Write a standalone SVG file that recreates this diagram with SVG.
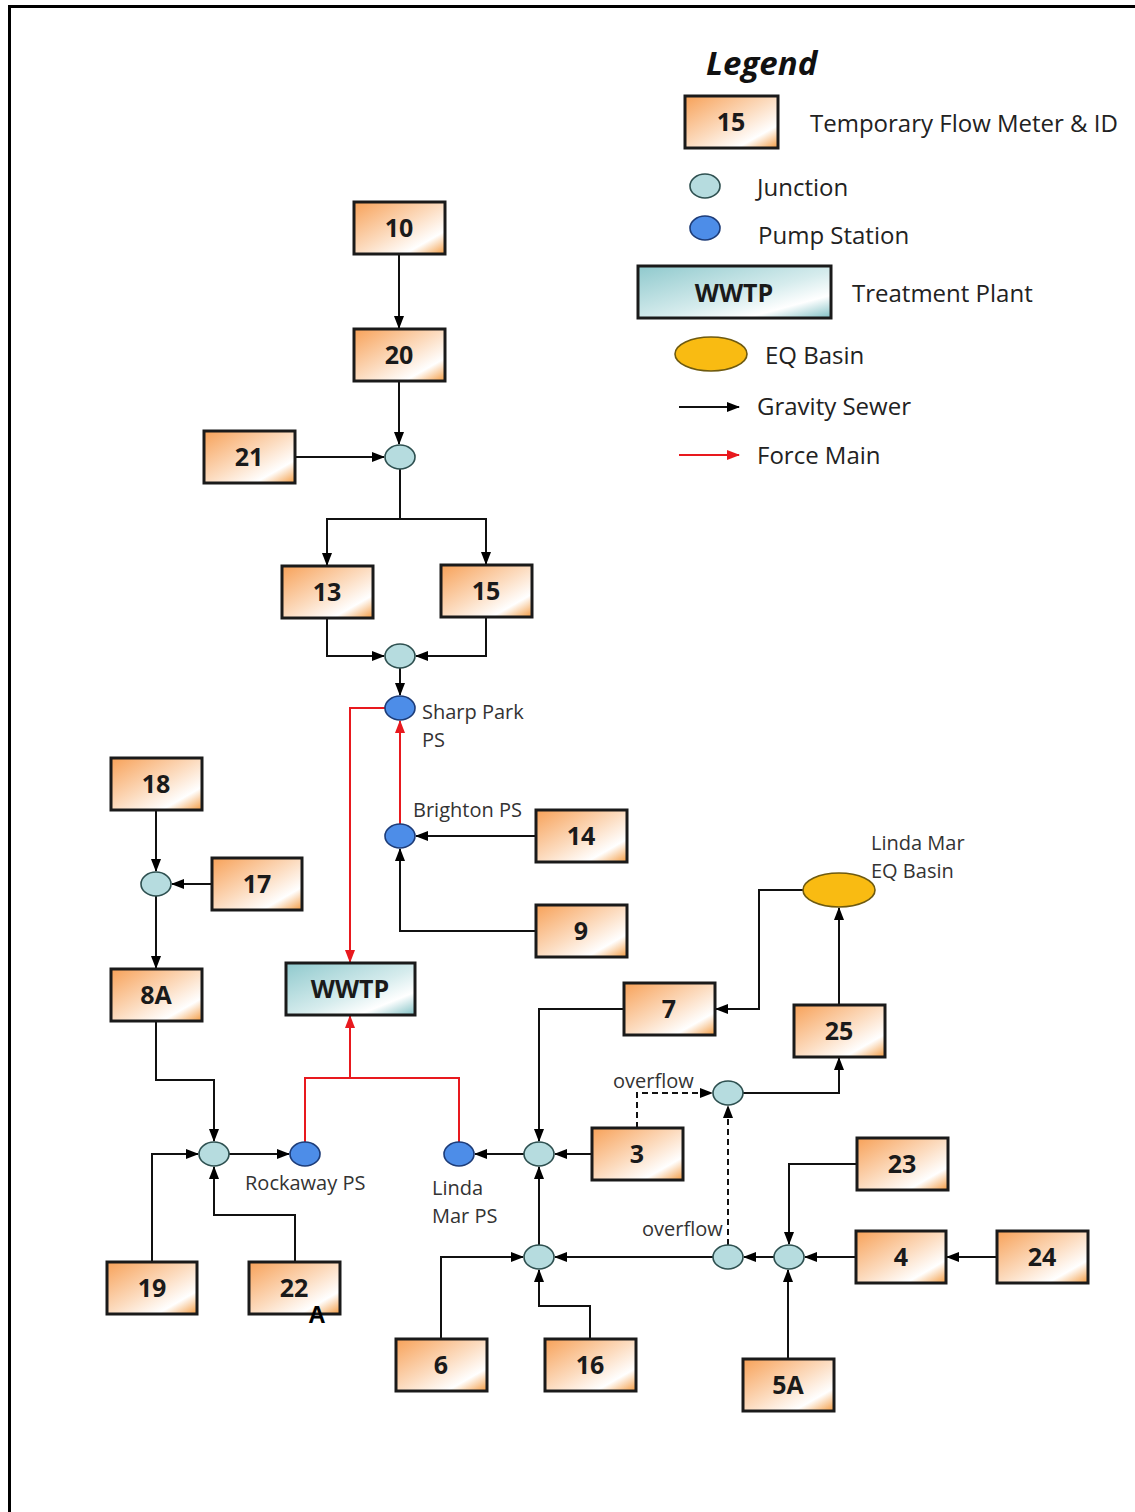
<svg xmlns="http://www.w3.org/2000/svg" width="1135" height="1512" viewBox="0 0 1135 1512">
<defs>
<linearGradient id="og" x1="0" y1="0" x2="1" y2="1">
<stop offset="0" stop-color="#f7a158"/>
<stop offset="0.5" stop-color="#fcdcc0"/>
<stop offset="0.78" stop-color="#ffffff"/>
<stop offset="1" stop-color="#f39a40"/>
</linearGradient>
<linearGradient id="tg" x1="0" y1="0" x2="1" y2="1">
<stop offset="0" stop-color="#8fc9cd"/>
<stop offset="0.55" stop-color="#d6eced"/>
<stop offset="0.78" stop-color="#ffffff"/>
<stop offset="1" stop-color="#7fc0c4"/>
</linearGradient>
<marker id="ab" markerUnits="userSpaceOnUse" markerWidth="13" markerHeight="12" viewBox="0 0 13 12" refX="12" refY="6" orient="auto">
<path d="M0,1 L13,6 L0,11 Z" fill="#000"/>
</marker>
<marker id="ar" markerUnits="userSpaceOnUse" markerWidth="13" markerHeight="12" viewBox="0 0 13 12" refX="12" refY="6" orient="auto">
<path d="M0,1 L13,6 L0,11 Z" fill="#e8191e"/>
</marker>
</defs>
<style>
.m{fill:url(#og);stroke:#1a1a1a;stroke-width:3}
.w{fill:url(#tg);stroke:#1a1a1a;stroke-width:3}
.j{fill:#b6dcdf;stroke:#2e5050;stroke-width:1.6}
.p{fill:#4d8de8;stroke:#1d3c78;stroke-width:1.6}
.eq{fill:#f9bb12;stroke:#6e5a10;stroke-width:1.6}
.n{font-family:"Open Sans","Liberation Sans",sans-serif;font-weight:bold;font-size:25px;fill:#1a1a1a;text-anchor:middle}
.t{font-family:"Open Sans","Liberation Sans",sans-serif;font-size:20px;fill:#333}
.lt{font-family:"Open Sans","Liberation Sans",sans-serif;font-size:24px;fill:#222}
.g{fill:none;stroke:#111;stroke-width:2;marker-end:url(#ab)}
.gn{fill:none;stroke:#111;stroke-width:2}
.d{fill:none;stroke:#111;stroke-width:2;stroke-dasharray:6,4;marker-end:url(#ab)}
.r{fill:none;stroke:#e8191e;stroke-width:2;marker-end:url(#ar)}
.rn{fill:none;stroke:#e8191e;stroke-width:2}
</style>
<rect width="1135" height="1512" fill="#fff"/>
<path d="M9.5,1512 V6.5 H1135" fill="none" stroke="#000" stroke-width="3"/>

<g id="legend">
<text x="706" y="75" font-family="Open Sans, Liberation Sans, sans-serif" font-size="33" font-weight="bold" font-style="italic" fill="#111">Legend</text>
<rect x="685" y="96" width="93" height="52" class="m"/>
<text x="731" y="131" class="n">15</text>
<text x="810" y="132" class="lt">Temporary Flow Meter &amp; ID</text>
<ellipse cx="705" cy="186" rx="15" ry="12" class="j"/>
<text x="757" y="196" class="lt">Junction</text>
<ellipse cx="705" cy="228" rx="15" ry="12" class="p"/>
<text x="758" y="244" class="lt">Pump Station</text>
<rect x="638" y="266" width="193" height="52" class="w"/>
<text x="734" y="302" class="n">WWTP</text>
<text x="852" y="302" class="lt">Treatment Plant</text>
<ellipse cx="711" cy="354" rx="36" ry="17" class="eq"/>
<text x="765" y="364" class="lt">EQ Basin</text>
<line x1="679" y1="407" x2="739" y2="407" class="g"/>
<text x="757" y="415" class="lt">Gravity Sewer</text>
<line x1="679" y1="455" x2="739" y2="455" class="r"/>
<text x="757" y="464" class="lt">Force Main</text>
</g>

<g id="connectors">
<line x1="399" y1="254" x2="399" y2="328" class="g"/>
<line x1="399" y1="381" x2="399" y2="444" class="g"/>
<line x1="295" y1="457" x2="384" y2="457" class="g"/>
<path d="M400,469 V519 H327 V565" class="g"/>
<path d="M400,519 H486 V564" class="g"/>
<path d="M327,618 V656 H384" class="g"/>
<path d="M486,617 V656 H416" class="g"/>
<line x1="400" y1="668" x2="400" y2="695" class="g"/>
<path d="M385,708 H350 V962" class="r"/>
<line x1="400" y1="824" x2="400" y2="721" class="r"/>
<line x1="536" y1="836" x2="416" y2="836" class="g"/>
<path d="M536,931 H400 V849" class="g"/>
<line x1="156" y1="810" x2="156" y2="871" class="g"/>
<line x1="212" y1="884" x2="172" y2="884" class="g"/>
<line x1="156" y1="896" x2="156" y2="968" class="g"/>
<path d="M156,1021 V1080 H214 V1141" class="g"/>
<path d="M152,1262 V1154 H198" class="g"/>
<path d="M295,1262 V1215 H214 V1167" class="g"/>
<line x1="229" y1="1154" x2="289" y2="1154" class="g"/>
<path d="M305,1142 V1078 H459 V1142" class="rn"/>
<line x1="350" y1="1078" x2="350" y2="1016" class="r"/>
<line x1="524" y1="1154" x2="475" y2="1154" class="g"/>
<line x1="592" y1="1154" x2="555" y2="1154" class="g"/>
<path d="M624,1009 H539 V1141" class="g"/>
<line x1="539" y1="1245" x2="539" y2="1167" class="g"/>
<path d="M637,1128 V1093 H712" class="d"/>
<path d="M743,1093 H839 V1058" class="g"/>
<line x1="839" y1="1005" x2="839" y2="908" class="g"/>
<path d="M803,890 H759 V1009 H716" class="g"/>
<line x1="728" y1="1245" x2="728" y2="1106" class="d"/>
<line x1="713" y1="1257" x2="555" y2="1257" class="g"/>
<line x1="774" y1="1257" x2="744" y2="1257" class="g"/>
<line x1="856" y1="1257" x2="805" y2="1257" class="g"/>
<line x1="997" y1="1257" x2="947" y2="1257" class="g"/>
<path d="M857,1164 H789 V1244" class="g"/>
<line x1="788" y1="1359" x2="788" y2="1270" class="g"/>
<path d="M441,1339 V1257 H523" class="g"/>
<path d="M590,1339 V1306 H539 V1270" class="g"/>
</g>

<g id="n10"><rect x="354" y="202" width="91" height="52" class="m"/><text x="399" y="237" class="n">10</text></g>
<g id="n20"><rect x="354" y="329" width="91" height="52" class="m"/><text x="399" y="364" class="n">20</text></g>
<g id="n21"><rect x="204" y="431" width="91" height="52" class="m"/><text x="249" y="466" class="n">21</text></g>
<g id="j1"><ellipse cx="400" cy="457" rx="15" ry="12" class="j"/></g>
<g id="n13"><rect x="282" y="566" width="91" height="52" class="m"/><text x="327" y="601" class="n">13</text></g>
<g id="n15"><rect x="441" y="565" width="91" height="52" class="m"/><text x="486" y="600" class="n">15</text></g>
<g id="j2"><ellipse cx="400" cy="656" rx="15" ry="12" class="j"/></g>
<g id="sharppark"><ellipse cx="400" cy="708" rx="15" ry="12" class="p"/><text x="422" y="719" class="t">Sharp Park</text><text x="422" y="747" class="t">PS</text></g>
<g id="brighton"><ellipse cx="400" cy="836" rx="15" ry="12" class="p"/><text x="413" y="817" class="t">Brighton PS</text></g>
<g id="n14"><rect x="536" y="810" width="91" height="52" class="m"/><text x="581" y="845" class="n">14</text></g>
<g id="n9"><rect x="536" y="905" width="91" height="52" class="m"/><text x="581" y="940" class="n">9</text></g>
<g id="n18"><rect x="111" y="758" width="91" height="52" class="m"/><text x="156" y="793" class="n">18</text></g>
<g id="j3"><ellipse cx="156" cy="884" rx="15" ry="12" class="j"/></g>
<g id="n17"><rect x="212" y="858" width="90" height="52" class="m"/><text x="257" y="893" class="n">17</text></g>
<g id="n8A"><rect x="111" y="969" width="91" height="52" class="m"/><text x="156" y="1004" class="n">8A</text></g>
<g id="wwtp"><rect x="286" y="963" width="129" height="52" class="w"/><text x="350" y="998" class="n">WWTP</text></g>
<g id="j4"><ellipse cx="214" cy="1154" rx="15" ry="12" class="j"/></g>
<g id="rockaway"><ellipse cx="305" cy="1154" rx="15" ry="12" class="p"/><text x="245" y="1190" class="t">Rockaway PS</text></g>
<g id="n19"><rect x="107" y="1262" width="90" height="52" class="m"/><text x="152" y="1297" class="n">19</text></g>
<g id="n22"><rect x="249" y="1262" width="91" height="52" class="m"/><text x="294" y="1297" class="n">22</text><text x="317" y="1323" font-family="Liberation Sans, Arial, sans-serif" font-weight="bold" font-size="24" fill="#000" text-anchor="middle">A</text></g>
<g id="lindamar"><ellipse cx="459" cy="1154" rx="15" ry="12" class="p"/><text x="432" y="1195" class="t">Linda</text><text x="432" y="1223" class="t">Mar PS</text></g>
<g id="j5"><ellipse cx="539" cy="1154" rx="15" ry="12" class="j"/></g>
<g id="n3"><rect x="592" y="1128" width="91" height="52" class="m"/><text x="637" y="1163" class="n">3</text></g>
<g id="n7"><rect x="624" y="983" width="91" height="52" class="m"/><text x="669" y="1018" class="n">7</text></g>
<g id="n25"><rect x="794" y="1005" width="91" height="52" class="m"/><text x="839" y="1040" class="n">25</text></g>
<g id="eqbasin"><ellipse cx="839" cy="890" rx="36" ry="17" class="eq"/><text x="871" y="850" class="t">Linda Mar</text><text x="871" y="878" class="t">EQ Basin</text></g>
<g id="j6"><ellipse cx="728" cy="1093" rx="15" ry="12" class="j"/><text x="613" y="1088" class="t">overflow</text></g>
<g id="n23"><rect x="857" y="1138" width="91" height="52" class="m"/><text x="902" y="1173" class="n">23</text></g>
<g id="j7"><ellipse cx="789" cy="1257" rx="15" ry="12" class="j"/></g>
<g id="j8"><ellipse cx="728" cy="1257" rx="15" ry="12" class="j"/><text x="642" y="1236" class="t">overflow</text></g>
<g id="j9"><ellipse cx="539" cy="1257" rx="15" ry="12" class="j"/></g>
<g id="n4"><rect x="856" y="1231" width="90" height="52" class="m"/><text x="901" y="1266" class="n">4</text></g>
<g id="n24"><rect x="997" y="1231" width="91" height="52" class="m"/><text x="1042" y="1266" class="n">24</text></g>
<g id="n5A"><rect x="743" y="1359" width="91" height="52" class="m"/><text x="788" y="1394" class="n">5A</text></g>
<g id="n6"><rect x="396" y="1339" width="91" height="52" class="m"/><text x="441" y="1374" class="n">6</text></g>
<g id="n16"><rect x="545" y="1339" width="91" height="52" class="m"/><text x="590" y="1374" class="n">16</text></g>
</svg>
